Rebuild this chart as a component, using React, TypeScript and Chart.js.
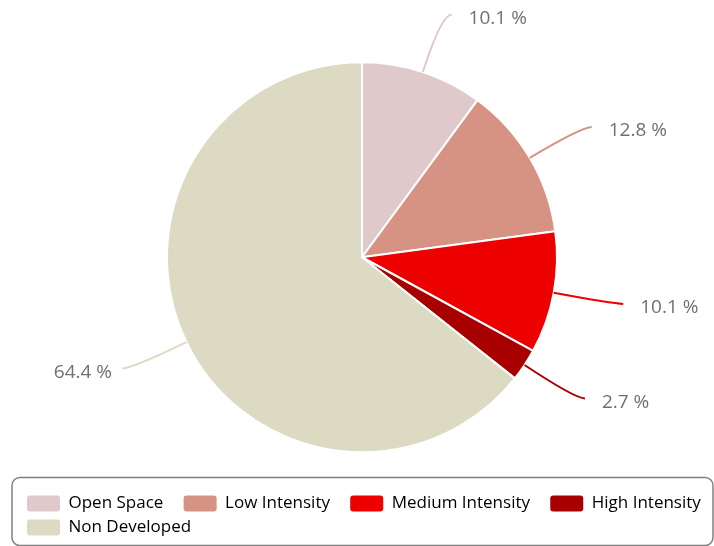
import React, { useEffect, useRef } from "react";
import { Chart, registerables } from "chart.js";

Chart.register(...registerables);

const categories = ["Open Space", "Low Intensity", "Medium Intensity", "High Intensity", "Non Developed"];
const shares = [10.1, 12.8, 10.1, 2.7, 64.4];
const sliceColors = ["#dfc9cb", "#d69383", "#ec0000", "#a80000", "#dddac4"];

const labelFont = "'Open Sans', sans-serif";

const leaderPlugin = {
  id: "leaderLabels",
  afterLayout(chart: any) {
    const lg = chart.legend;
    if (lg) {
      lg.left += 10;
      lg.right += 10;
    }
  },
  afterDatasetsDraw(chart: any) {
    const ctx = chart.ctx;
    const meta = chart.getDatasetMeta(0);
    const data = chart.data.datasets[0].data as number[];
    ctx.save();
    meta.data.forEach((arc: any, i: number) => {
      const { x, y, startAngle, endAngle, outerRadius } = arc.getProps(
        ["x", "y", "startAngle", "endAngle", "outerRadius"],
        true
      );
      const mid = (startAngle + endAngle) / 2;
      const dx = Math.cos(mid);
      const dy = Math.sin(mid);
      const side = dx >= 0 ? 1 : -1;
      const sx = x + outerRadius * dx;
      const sy = y + outerRadius * dy;
      const cx = x + outerRadius * 1.31 * dx;
      const cy = y + outerRadius * 1.31 * dy;
      const ex = cx + side * 10;
      const ey = cy;
      ctx.strokeStyle = sliceColors[i];
      ctx.lineWidth = 2;
      ctx.beginPath();
      ctx.moveTo(sx, sy);
      ctx.quadraticCurveTo(cx, cy, ex, ey);
      ctx.stroke();
      ctx.fillStyle = "#707070";
      ctx.font = `19px ${labelFont}`;
      ctx.textBaseline = "middle";
      ctx.textAlign = side > 0 ? "left" : "right";
      ctx.fillText(`${data[i].toFixed(1)} %`, ex + side * (side > 0 ? 17 : 10), ey + 4);
    });
    ctx.restore();
  },
  afterDraw(chart: any) {
    const lg = chart.legend;
    if (!lg) return;
    const ctx = chart.ctx;
    const x = 12;
    const y = lg.top - 10.5;
    const w = chart.width - 13;
    const h = 68;
    const r = 8;
    ctx.save();
    ctx.strokeStyle = "#808080";
    ctx.lineWidth = 1.5;
    ctx.beginPath();
    ctx.moveTo(x + r, y);
    ctx.lineTo(x + w - r, y);
    ctx.arcTo(x + w, y, x + w, y + r, r);
    ctx.lineTo(x + w, y + h - r);
    ctx.arcTo(x + w, y + h, x + w - r, y + h, r);
    ctx.lineTo(x + r, y + h);
    ctx.arcTo(x, y + h, x, y + h - r, r);
    ctx.lineTo(x, y + r);
    ctx.arcTo(x, y, x + r, y, r);
    ctx.closePath();
    ctx.stroke();
    ctx.restore();
  },
};

export default function App() {
  const ref = useRef<HTMLCanvasElement>(null);
  useEffect(() => {
    if (!ref.current) return;
    const chart = new Chart(ref.current, {
      type: "pie",
      data: {
        labels: categories,
        datasets: [
          {
            data: shares,
            backgroundColor: sliceColors,
            borderColor: "#ffffff",
            borderWidth: 2,
            radius: 195,
          } as any,
        ],
      },
      options: {
        responsive: false,
        animation: false,
        devicePixelRatio: 1,
        layout: { padding: { top: 26.5, bottom: 0, left: 10, right: 0 } },
        plugins: {
          tooltip: { enabled: false },
          legend: {
            position: "bottom",
            align: "start",
            labels: {
              boxWidth: 33,
              boxHeight: 16,
              padding: 7,
              color: "#41607f",
              font: { family: labelFont, size: 17 },
              useBorderRadius: true,
              borderRadius: 3,
              generateLabels: (c: any) =>
                categories.map((t, i) => ({
                  text: t + "   ",
                  fillStyle: sliceColors[i],
                  strokeStyle: sliceColors[i],
                  lineWidth: 0,
                  hidden: false,
                  index: i,
                  borderRadius: 3,
                })),
            },
          },
        },
      },
      plugins: [leaderPlugin],
    });
    return () => chart.destroy();
  }, []);
  return (
    <div style={{ position: "fixed", left: 0, top: 0, width: 714, height: 546, background: "#fff" }}>
      <canvas ref={ref} width={714} height={546} />
    </div>
  );
}
